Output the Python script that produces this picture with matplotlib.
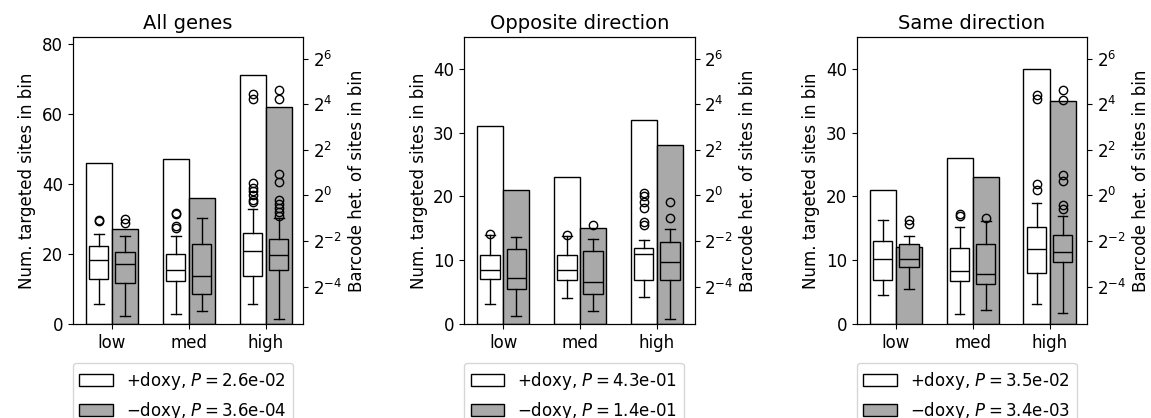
import matplotlib
matplotlib.use("Agg")
import matplotlib.pyplot as plt
from matplotlib.patches import Patch
from matplotlib.ticker import FixedLocator, LogFormatterSciNotation, NullLocator

categories = ["low", "med", "high"]
titles = ["All genes", "Opposite direction", "Same direction"]
left_ylims = [82, 45, 45]

# bar heights (number of targeted sites)
plus_counts = [[46, 47, 71], [31, 23, 32], [21, 26, 40]]
minus_counts = [[27, 36, 62], [21, 15, 28], [12, 23, 35]]

# box statistics as log2 exponents: (whislo, q1, med, q3, whishi)
plus_box_log2 = [
    [(-4.77, -3.68, -2.84, -2.21, -1.69), (-5.18, -3.75, -3.27, -2.58, -1.76), (-4.77, -3.55, -2.42, -1.63, -0.59)],
    [(-4.76, -3.68, -3.27, -2.61, -1.75), (-4.48, -3.71, -3.27, -2.63, -1.79), (-4.44, -3.71, -2.59, -2.30, -1.97)],
    [(-4.35, -3.71, -2.78, -2.02, -1.07), (-5.18, -3.75, -3.30, -2.29, -1.39), (-4.77, -3.39, -2.34, -1.39, -0.32)],
]
minus_box_log2 = [
    [(-5.29, -3.83, -2.99, -2.48, -1.80), (-5.07, -4.33, -3.52, -2.14, -1.00), (-5.41, -3.27, -2.63, -1.91, -1.00)],
    [(-5.28, -4.09, -3.61, -2.37, -1.82), (-5.06, -4.32, -3.80, -2.43, -1.89), (-5.41, -3.71, -2.91, -2.05, -1.46)],
    [(-4.09, -3.12, -2.80, -2.14, -1.80), (-5.03, -3.90, -3.44, -2.12, -1.14), (-5.15, -2.93, -2.46, -1.73, -0.92)],
]
plus_fliers_log2 = [
    [[-1.07, -1.11], [-0.75, -0.82, -1.36, -1.42], [4.46, 4.25, 0.54, 0.32, 0.18, 0.03, -0.19, -0.29]],
    [[-1.68], [-1.75], [0.10, -0.03, -0.27, -0.54, -1.15, -1.28]],
    [[], [-0.82, -0.89], [4.40, 4.21, 0.50, 0.25]],
]
minus_fliers_log2 = [
    [[-1.04, -1.19], [], [4.62, 4.21, 0.95, 0.59, -0.19, -0.37, -0.56, -0.73, -0.89]],
    [[], [-1.31], [-0.29, -0.98]],
    [[-1.07, -1.24], [-1.01], [4.61, 4.17, 0.91, 0.62, -0.44, -0.60]],
]
plus_pvals = ["2.6e-02", "4.3e-01", "3.5e-02"]
minus_pvals = ["3.6e-04", "1.4e-01", "3.4e-03"]

GREY = "#a9a9a9"
fig = plt.figure(figsize=(11.51, 4.18), dpi=100)
lefts = [0.0632, 0.4031, 0.7443]
bottom, height, width = 0.2249, 0.6866, 0.2003

def make_stats(box, fl):
    lo, q1, med, q3, hi = [2.0 ** v for v in box]
    return dict(whislo=lo, q1=q1, med=med, q3=q3, whishi=hi, fliers=[2.0 ** v for v in fl])

for p in range(3):
    ax = fig.add_axes([lefts[p], bottom, width, height])
    xs = list(range(len(categories)))
    bw = 0.34
    ax.bar([x - bw / 2 for x in xs], plus_counts[p], width=bw, color="white", edgecolor="black", linewidth=1.0)
    ax.bar([x + bw / 2 for x in xs], minus_counts[p], width=bw, color=GREY, edgecolor="black", linewidth=1.0)
    ax.set_xlim(-0.51, 2.49)
    ax.set_ylim(0, left_ylims[p])
    ax.set_xticks(xs)
    ax.set_xticklabels(categories)
    ax.set_ylabel("Num. targeted sites in bin", fontsize=12)
    ax.set_title(titles[p], fontsize=14)
    ax.tick_params(labelsize=12)

    ax2 = ax.twinx()
    ax2.set_yscale("log", base=2)
    stats_p = [make_stats(plus_box_log2[p][i], plus_fliers_log2[p][i]) for i in xs]
    stats_m = [make_stats(minus_box_log2[p][i], minus_fliers_log2[p][i]) for i in xs]
    flierprops = dict(marker="o", markerfacecolor="none", markeredgecolor="black", markersize=6, markeredgewidth=1.0)
    ax2.bxp(stats_p, positions=[x - bw / 2 for x in xs], widths=0.25, patch_artist=True,
            boxprops=dict(facecolor="white", edgecolor="black", linewidth=1.0),
            medianprops=dict(color="black", linewidth=1.0), whiskerprops=dict(color="black"),
            capprops=dict(color="black"), flierprops=flierprops, manage_ticks=False)
    ax2.bxp(stats_m, positions=[x + bw / 2 for x in xs], widths=0.25, patch_artist=True,
            boxprops=dict(facecolor=GREY, edgecolor="black", linewidth=1.0),
            medianprops=dict(color="black", linewidth=1.0), whiskerprops=dict(color="black"),
            capprops=dict(color="black"), flierprops=flierprops, manage_ticks=False)
    ax2.set_ylim(2.0 ** -5.64, 2.0 ** 6.95)
    ax2.yaxis.set_major_locator(FixedLocator([2.0 ** k for k in (-4, -2, 0, 2, 4, 6)]))
    ax2.yaxis.set_major_formatter(LogFormatterSciNotation(base=2))
    ax2.yaxis.set_minor_locator(NullLocator())
    ax2.set_ylabel("Barcode het. of sites in bin", fontsize=12)
    ax2.tick_params(labelsize=12)
    ax.set_xlim(-0.51, 2.49)

    handles = [Patch(facecolor="white", edgecolor="black"), Patch(facecolor=GREY, edgecolor="black")]
    labels = [r"+doxy, $P=$" + plus_pvals[p], "\u2212doxy, " + r"$P=$" + minus_pvals[p]]
    ax.legend(handles, labels, loc="upper left", bbox_to_anchor=(0, -0.136), borderaxespad=0, fontsize=12)

fig.savefig("out.png", dpi=100)
